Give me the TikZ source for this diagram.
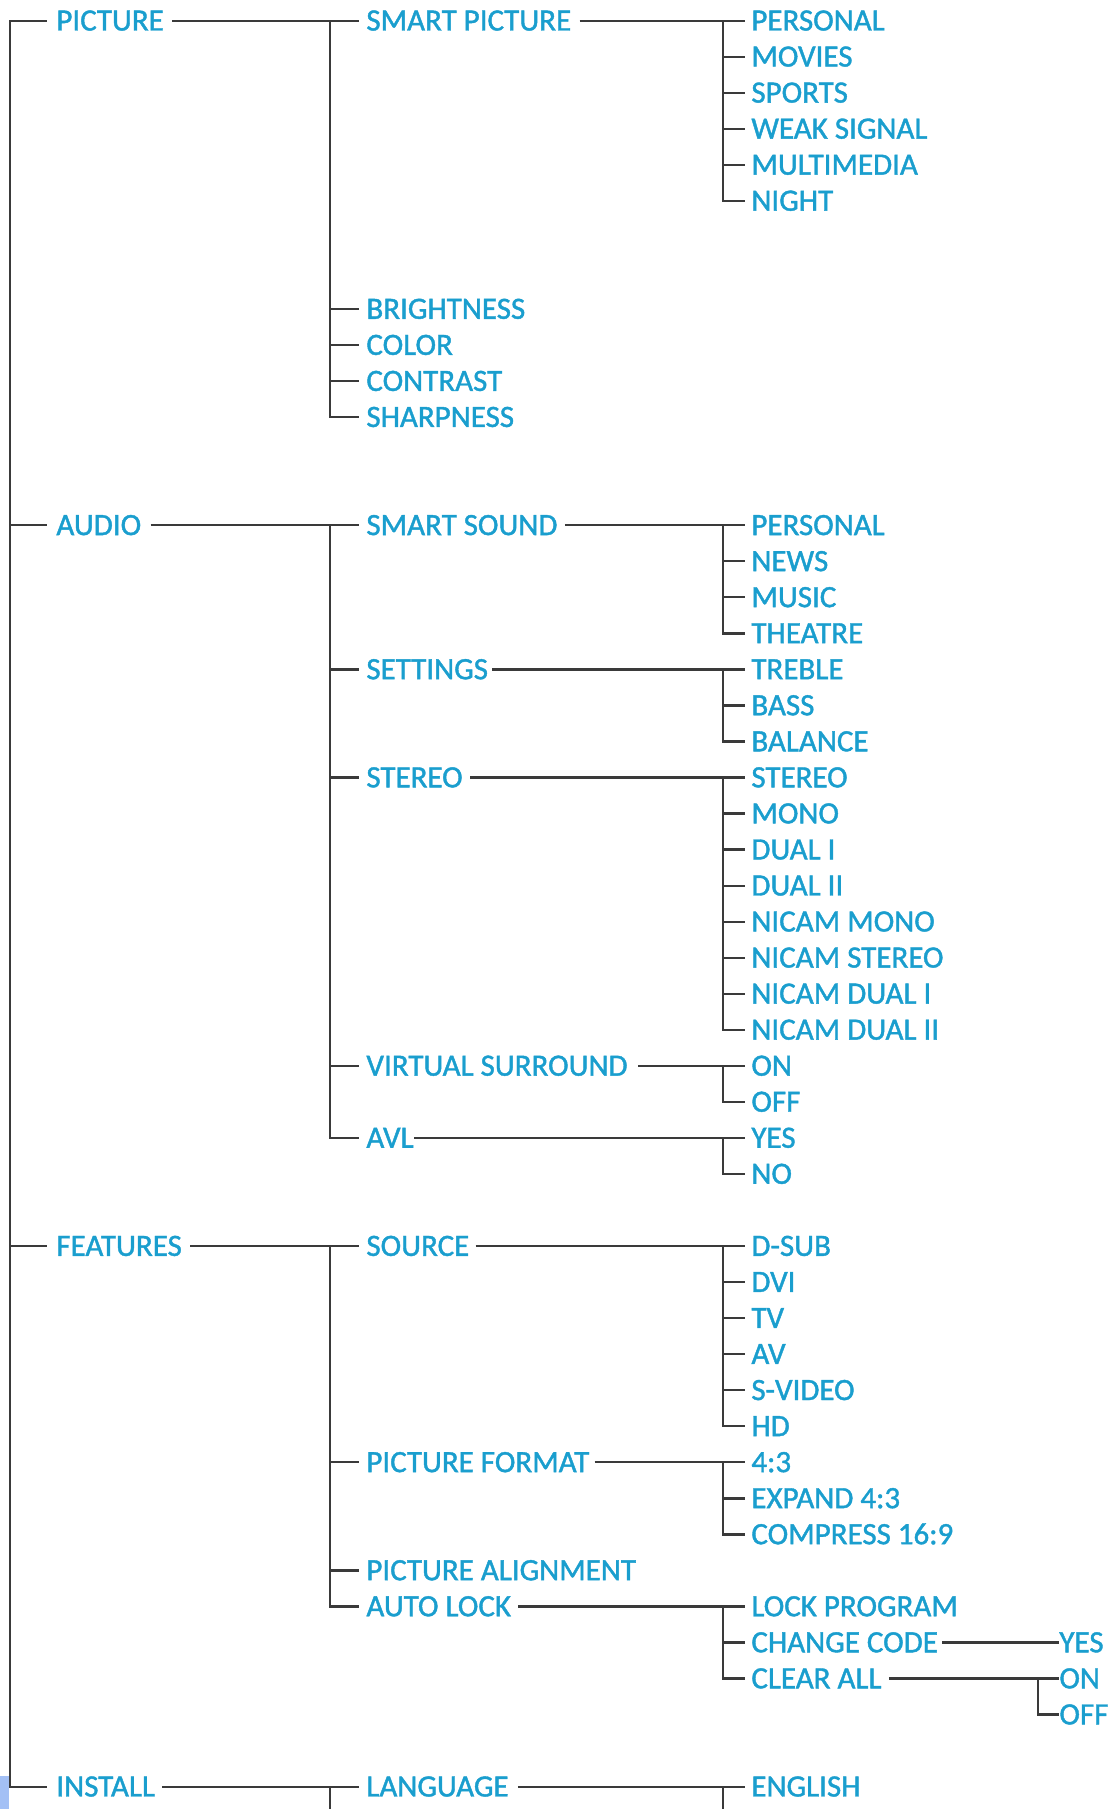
\documentclass[tikz,border=0pt]{standalone}
\usepackage{fontspec}
\setmainfont{Carlito}
\newfontfamily\labfont{Carlito}[FakeBold=1.3]
\definecolor{txt}{HTML}{1A9ECE}
\definecolor{ln}{HTML}{3A3A3A}
\definecolor{blk}{HTML}{A3C0F5}
\tikzset{
  lab/.style={anchor=west, inner sep=0pt, text height=9.8pt, text depth=0pt,
    text=txt, font=\labfont\fontsize{15.5pt}{18pt}\selectfont},
  con/.style={draw=ln, line width=1.15pt, line join=miter},
}
\begin{document}
\begin{tikzpicture}[x=0.5pt,y=-0.5pt]
\useasboundingbox (0,0) rectangle (1114,1809);
\fill[blk] (0,1776) rectangle (8.5,1809);
\begin{scope}[yshift=-10.35pt, y=-18.02pt]
% column coordinates
\coordinate (v1) at (10,0);   \coordinate (t1) at (46.5,0);
\coordinate (v2) at (330,0);  \coordinate (t2) at (359,0);
\coordinate (v3) at (723,0);  \coordinate (t3) at (745,0);
\coordinate (v4) at (1038,0); \coordinate (t4) at (1059,0);
\coordinate (bot2) at (330,49.7);
\coordinate (bot3) at (723,49.7);
% level 1
\node[lab] (picture)  at (56,0)  {PICTURE};
\node[lab] (audio)    at (56,14) {AUDIO};
\node[lab] (features) at (56,34) {FEATURES};
\node[lab] (install)  at (56,49) {INSTALL};
% level 2
\node[lab] (smartpic)   at (366,0)  {SMART PICTURE};
\node[lab] (bright)     at (366,8)  {BRIGHTNESS};
\node[lab] (color)      at (366,9)  {COLOR};
\node[lab] (contrast)   at (366,10) {CONTRAST};
\node[lab] (sharp)      at (366,11) {SHARPNESS};
\node[lab] (smartsound) at (366,14) {SMART SOUND};
\node[lab] (settings)   at (366,18) {SETTINGS};
\node[lab] (stereo)     at (366,21) {STEREO};
\node[lab] (vsurr)      at (366,29) {VIRTUAL SURROUND};
\node[lab] (avl)        at (366,31) {AVL};
\node[lab] (source)     at (366,34) {SOURCE};
\node[lab] (picfmt)     at (366,40) {PICTURE FORMAT};
\node[lab] (picalign)   at (366,43) {PICTURE ALIGNMENT};
\node[lab] (autolock)   at (366,44) {AUTO LOCK};
\node[lab] (language)   at (366,49) {LANGUAGE};
% level 3
\node[lab] (per1)    at (751,0)  {PERSONAL};
\node[lab] (movies)  at (751,1)  {MOVIES};
\node[lab] (sports)  at (751,2)  {SPORTS};
\node[lab] (weak)    at (751,3)  {WEAK SIGNAL};
\node[lab] (multi)   at (751,4)  {MULTIMEDIA};
\node[lab] (night)   at (751,5)  {NIGHT};
\node[lab] (per2)    at (751,14) {PERSONAL};
\node[lab] (news)    at (751,15) {NEWS};
\node[lab] (music)   at (751,16) {MUSIC};
\node[lab] (theatre) at (751,17) {THEATRE};
\node[lab] (treble)  at (751,18) {TREBLE};
\node[lab] (bass)    at (751,19) {BASS};
\node[lab] (balance) at (751,20) {BALANCE};
\node[lab] (st)      at (751,21) {STEREO};
\node[lab] (mono)    at (751,22) {MONO};
\node[lab] (dual1)   at (751,23) {DUAL I};
\node[lab] (dual2)   at (751,24) {DUAL II};
\node[lab] (nmono)   at (751,25) {NICAM MONO};
\node[lab] (nstereo) at (751,26) {NICAM STEREO};
\node[lab] (ndual1)  at (751,27) {NICAM DUAL I};
\node[lab] (ndual2)  at (751,28) {NICAM DUAL II};
\node[lab] (on1)     at (751,29) {ON};
\node[lab] (off1)    at (751,30) {OFF};
\node[lab] (yes1)    at (751,31) {YES};
\node[lab] (no1)     at (751,32) {NO};
\node[lab] (dsub)    at (751,34) {D-SUB};
\node[lab] (dvi)     at (751,35) {DVI};
\node[lab] (tv)      at (751,36) {TV};
\node[lab] (av)      at (751,37) {AV};
\node[lab] (svideo)  at (751,38) {S-VIDEO};
\node[lab] (hd)      at (751,39) {HD};
\node[lab] (f43)     at (751,40) {4:3};
\node[lab] (expand)  at (751,41) {EXPAND 4:3};
\node[lab] (compr)   at (751,42) {COMPRESS 16:9};
\node[lab] (lockpr)  at (751,44) {LOCK PROGRAM};
\node[lab] (chcode)  at (751,45) {CHANGE CODE};
\node[lab] (clrall)  at (751,46) {CLEAR ALL};
\node[lab] (english) at (751,49) {ENGLISH};
% level 4
\node[lab] (yes2) at (1059,45) {YES};
\node[lab] (on2)  at (1059,46) {ON};
\node[lab] (off2) at (1059,47) {OFF};

% ---- level 1 tree
\draw[con] (picture.west -| t1) -- (picture.west -| v1) -- (install.west -| v1) -- (install.west -| t1);
\draw[con] (audio.west -| v1) -- (audio.west -| t1);
\draw[con] (features.west -| v1) -- (features.west -| t1);

% ---- PICTURE
\draw[con] ([xshift=4pt]picture.east) -- (smartpic.west -| t2);
\draw[con] (smartpic.west -| v2) -- (sharp.west -| v2) -- (sharp.west -| t2);
\foreach \n in {bright,color,contrast} \draw[con] (\n.west -| v2) -- (\n.west -| t2);
\draw[con] ([xshift=4pt]smartpic.east) -- (per1.west -| t3);
\draw[con] (per1.west -| v3) -- (night.west -| v3) -- (night.west -| t3);
\foreach \n in {movies,sports,weak,multi} \draw[con] (\n.west -| v3) -- (\n.west -| t3);

% ---- AUDIO
\draw[con] ([xshift=4.5pt]audio.east) -- (smartsound.west -| t2);
\draw[con] (smartsound.west -| v2) -- (avl.west -| v2) -- (avl.west -| t2);
\foreach \n in {settings,stereo,vsurr} \draw[con] (\n.west -| v2) -- (\n.west -| t2);
\draw[con] ([xshift=3.5pt]smartsound.east) -- (per2.west -| t3);
\draw[con] (per2.west -| v3) -- (theatre.west -| v3) -- (theatre.west -| t3);
\foreach \n in {news,music} \draw[con] (\n.west -| v3) -- (\n.west -| t3);
\draw[con] ([xshift=2pt]settings.east) -- (treble.west -| t3);
\draw[con] (treble.west -| v3) -- (balance.west -| v3) -- (balance.west -| t3);
\draw[con] (bass.west -| v3) -- (bass.west -| t3);
\draw[con] ([xshift=3.5pt]stereo.east) -- (st.west -| t3);
\draw[con] (st.west -| v3) -- (ndual2.west -| v3) -- (ndual2.west -| t3);
\foreach \n in {mono,dual1,dual2,nmono,nstereo,ndual1} \draw[con] (\n.west -| v3) -- (\n.west -| t3);
\draw[con] ([xshift=5pt]vsurr.east) -- (on1.west -| t3);
\draw[con] (on1.west -| v3) -- (off1.west -| v3) -- (off1.west -| t3);
\draw[con] (avl.east) -- (yes1.west -| t3);
\draw[con] (yes1.west -| v3) -- (no1.west -| v3) -- (no1.west -| t3);

% ---- FEATURES
\draw[con] ([xshift=4pt]features.east) -- (source.west -| t2);
\draw[con] (source.west -| v2) -- (autolock.west -| v2) -- (autolock.west -| t2);
\foreach \n in {picfmt,picalign} \draw[con] (\n.west -| v2) -- (\n.west -| t2);
\draw[con] ([xshift=3pt]source.east) -- (dsub.west -| t3);
\draw[con] (dsub.west -| v3) -- (hd.west -| v3) -- (hd.west -| t3);
\foreach \n in {dvi,tv,av,svideo} \draw[con] (\n.west -| v3) -- (\n.west -| t3);
\draw[con] ([xshift=2.5pt]picfmt.east) -- (f43.west -| t3);
\draw[con] (f43.west -| v3) -- (compr.west -| v3) -- (compr.west -| t3);
\draw[con] (expand.west -| v3) -- (expand.west -| t3);
\draw[con] ([xshift=3.5pt]autolock.east) -- (lockpr.west -| t3);
\draw[con] (lockpr.west -| v3) -- (clrall.west -| v3) -- (clrall.west -| t3);
\draw[con] (chcode.west -| v3) -- (chcode.west -| t3);
\draw[con] ([xshift=2pt]chcode.east) -- (yes2.west -| t4);
\draw[con] ([xshift=3.5pt]clrall.east) -- (on2.west -| t4);
\draw[con] (on2.west -| v4) -- (off2.west -| v4) -- (off2.west -| t4);

% ---- INSTALL
\draw[con] ([xshift=3.5pt]install.east) -- (language.west -| t2);
\draw[con] (language.west -| v2) -- (bot2);
\draw[con] ([xshift=4.5pt]language.east) -- (english.west -| t3);
\draw[con] (english.west -| v3) -- (bot3);
\end{scope}
\end{tikzpicture}
\end{document}
